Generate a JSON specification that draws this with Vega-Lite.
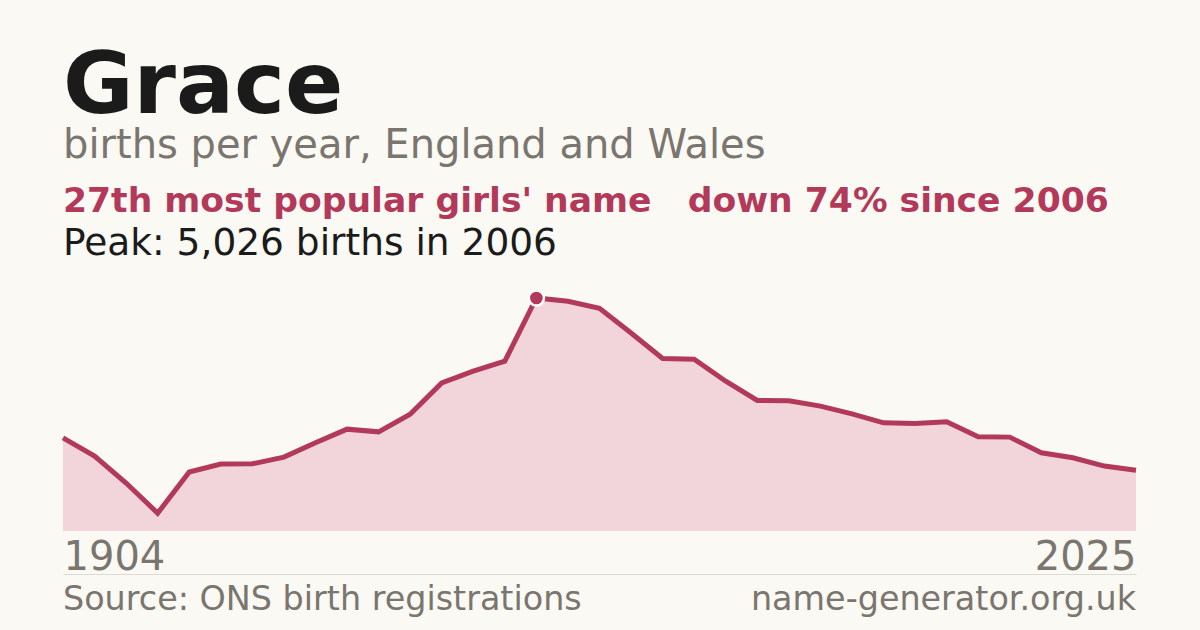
{
  "$schema": "https://vega.github.io/schema/vega-lite/v6.json",
  "background": "#faf9f4",
  "padding": {"left": 53, "right": 63, "top": 44, "bottom": 0},
  "config": {"view": {"stroke": null}, "font": "DejaVu Sans"},
  "title": {
    "text": "Grace",
    "subtitle": "births per year, England and Wales",
    "anchor": "start",
    "frame": "group",
    "font": "DejaVu Sans",
    "fontSize": 86,
    "fontWeight": "bold",
    "color": "#1b1b1b",
    "subtitleFont": "DejaVu Sans",
    "subtitleFontSize": 40,
    "subtitleColor": "#7a756e",
    "subtitlePadding": -5,
    "offset": 17
  },
  "spacing": 43,
  "bounds": "flush",
  "vconcat": [
    {
      "width": 1073,
      "height": 233,
      "title": {
        "text": "27th most popular girls' name\u00a0\u00a0\u00a0down 74% since 2006",
        "subtitle": "Peak: 5,026 births in 2006",
        "anchor": "start",
        "frame": "group",
        "font": "DejaVu Sans",
        "fontSize": 34.6,
        "fontWeight": "bold",
        "color": "#b3395a",
        "subtitleFont": "DejaVu Sans",
        "subtitleFontSize": 37.5,
        "subtitleColor": "#1b1b1b",
        "subtitlePadding": 5,
        "offset": 22
      },
      "data": {
        "values": [
          {"year": 1904, "births": 2010},
          {"year": 1914, "births": 1616},
          {"year": 1924, "births": 1034},
          {"year": 1934, "births": 385},
          {"year": 1944, "births": 1271},
          {"year": 1954, "births": 1443},
          {"year": 1964, "births": 1450},
          {"year": 1974, "births": 1594},
          {"year": 1984, "births": 1902},
          {"year": 1994, "births": 2197},
          {"year": 1996, "births": 2139},
          {"year": 1998, "births": 2520},
          {"year": 2000, "births": 3195},
          {"year": 2002, "births": 3447},
          {"year": 2004, "births": 3662},
          {"year": 2006, "births": 5026},
          {"year": 2007, "births": 4955},
          {"year": 2008, "births": 4804},
          {"year": 2009, "births": 4272},
          {"year": 2010, "births": 3720},
          {"year": 2011, "births": 3705},
          {"year": 2012, "births": 3231},
          {"year": 2013, "births": 2816},
          {"year": 2014, "births": 2810},
          {"year": 2015, "births": 2693},
          {"year": 2016, "births": 2527},
          {"year": 2017, "births": 2333},
          {"year": 2018, "births": 2320},
          {"year": 2019, "births": 2355},
          {"year": 2020, "births": 2031},
          {"year": 2021, "births": 2025},
          {"year": 2022, "births": 1687},
          {"year": 2023, "births": 1579},
          {"year": 2024, "births": 1400},
          {"year": 2025, "births": 1310}
        ]
      },
      "encoding": {
        "x": {
          "field": "year",
          "type": "ordinal",
          "scale": {"type": "point", "padding": 0},
          "axis": {
            "title": null,
            "labelExpr": "datum.label == '1904' || datum.label == '2025' ? datum.label : ''",
            "labelFlush": true,
            "labelOverlap": false,
            "labelAngle": 0,
            "labelFont": "DejaVu Sans",
            "labelFontSize": 40,
            "labelColor": "#7a756e",
            "labelPadding": 6,
            "ticks": false,
            "domain": false,
            "grid": false
          }
        },
        "y": {
          "field": "births",
          "type": "quantitative",
          "scale": {"zero": true, "nice": false},
          "axis": null
        }
      },
      "layer": [
        {"mark": {"type": "area", "color": "#f2d5db", "opacity": 1}},
        {"mark": {"type": "line", "color": "#b3395a", "strokeWidth": 5}},
        {
          "transform": [{"filter": "datum.year == 2006"}],
          "mark": {"type": "point", "filled": true, "shape": "circle", "size": 230, "color": "#b3395a", "stroke": "#ffffff", "strokeWidth": 2.5, "opacity": 1}
        }
      ]
    },
    {
      "width": 1073,
      "height": 72,
      "data": {
        "values": [
          {"side": "left", "text": "Source: ONS birth registrations"},
          {"side": "right", "text": "name-generator.org.uk"}
        ]
      },
      "mark": {
        "type": "text",
        "font": "DejaVu Sans",
        "fontSize": 33.4,
        "color": "#7a756e",
        "baseline": "alphabetic",
        "align": {"expr": "datum.side === 'left' ? 'left' : 'right'"}
      },
      "encoding": {
        "x": {
          "field": "side",
          "type": "nominal",
          "scale": {"type": "point", "padding": 0},
          "axis": {
            "orient": "top",
            "title": null,
            "labels": false,
            "ticks": false,
            "grid": false,
            "domain": true,
            "domainColor": "#dddad3",
            "domainWidth": 1
          }
        },
        "text": {"field": "text"}
      }
    }
  ]
}
